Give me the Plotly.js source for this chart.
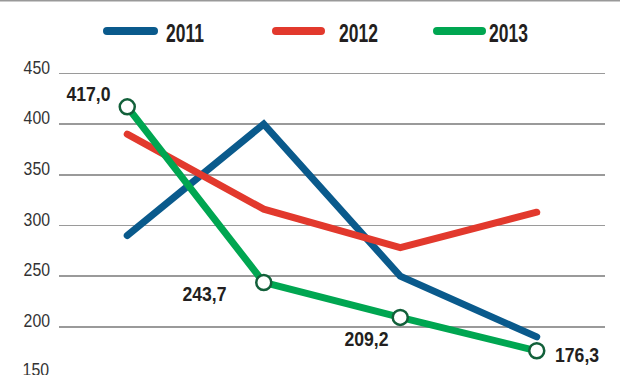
<!DOCTYPE html>
<html>
<head>
<meta charset="utf-8">
<script src="https://cdn.plot.ly/plotly-3.0.1.min.js"></script>
<style>
  html, body { margin: 0; padding: 0; background: #fff; }
  #chart { width: 620px; height: 375px; }
  .js-line, .shapelayer path { stroke-linecap: round; }
</style>
</head>
<body>
<div id="chart"></div>
<script>
const categories = ['I', 'II', 'III', 'IV'];
const seriesNames = ['2011', '2012', '2013'];
const values2011 = [290, 400, 250, 190];
const values2012 = [390, 316, 278, 313];
const values2013 = [417.0, 243.7, 209.2, 176.3];
const dataLabels2013 = ['417,0', '243,7', '209,2', '176,3'];
const yTicks = [200, 250, 300, 350, 400, 450];
const bottomTickLabel = '150';
const colors = ['#0a5a8c', '#e2392d', '#00a651'];

const FONT = '"Liberation Sans", Arial, sans-serif';
const L = 59, R = 605, T = 60, B = 375;
const px = x => (x - L) / (R - L);
const py = y => (B - y) / (B - T);

const xIdx = categories.map((c, i) => i);

const traces = [
  { x: xIdx, y: values2011, name: seriesNames[0], mode: 'lines',
    line: { color: colors[0], width: 7 } },
  { x: xIdx, y: values2012, name: seriesNames[1], mode: 'lines',
    line: { color: colors[1], width: 7 } },
  { x: xIdx, y: values2013, name: seriesNames[2], mode: 'lines+markers',
    line: { color: colors[2], width: 7 },
    marker: { size: 15, color: '#ffffff', line: { color: '#12603a', width: 2.5 } } }
];

// data label placement (offsets in px relative to the point)
const labelPos = [
  { xanchor: 'right', xshift: -14, yshift: 13 },
  { xanchor: 'right', xshift: -35, yshift: -11 },
  { xanchor: 'right', xshift: -9, yshift: -21 },
  { xanchor: 'left', xshift: 16, yshift: -4 }
];

const annotations = [];
const squeezeInfo = []; // horizontal condensing per annotation (font is condensed in reference)
values2013.forEach((v, i) => {
  annotations.push(Object.assign({
    x: xIdx[i], y: v, xref: 'x', yref: 'y', text: dataLabels2013[i],
    showarrow: false, yanchor: 'middle',
    font: { family: FONT, size: 21, color: '#231f20', weight: 'bold' }
  }, labelPos[i]));
  squeezeInfo.push({ s: 0.84, anchor: labelPos[i].xanchor });
});

// bottom "150" tick label (slightly cut off at the bottom edge)
annotations.push({
  xref: 'paper', yref: 'paper', x: 0, y: 0, xanchor: 'right', yanchor: 'middle',
  xshift: -8, yshift: 5, text: bottomTickLabel, showarrow: false,
  font: { family: FONT, size: 18, color: '#333333' }
});
squeezeInfo.push({ s: 0.88, anchor: 'right' });

// custom legend
const legendItems = [
  { x0: 107, x1: 154, tx: 164 },
  { x0: 276, x1: 321, tx: 337 },
  { x0: 437, x1: 482, tx: 487 }
];
const legendY = 31;
const shapes = [];
legendItems.forEach((it, i) => {
  shapes.push({ type: 'line', xref: 'paper', yref: 'paper',
    x0: px(it.x0), x1: px(it.x1), y0: py(legendY), y1: py(legendY),
    line: { color: colors[i], width: 8 } });
  annotations.push({ xref: 'paper', yref: 'paper', x: px(it.tx), y: py(legendY + 1.5),
    xanchor: 'left', yanchor: 'middle', text: seriesNames[i], showarrow: false,
    font: { family: FONT, size: 25, color: '#231f20', weight: 'bold' } });
  squeezeInfo.push({ s: 0.70, anchor: 'left' });
});
// top gray rule
shapes.push({ type: 'line', xref: 'paper', yref: 'paper',
  x0: px(0), x1: px(620), y0: py(0.8), y1: py(0.8),
  line: { color: '#999999', width: 1.6 } });

const layout = {
  width: 620, height: 375,
  margin: { l: L, r: 620 - R, t: T, b: 0, pad: 0 },
  paper_bgcolor: '#ffffff', plot_bgcolor: '#ffffff',
  showlegend: false,
  xaxis: { range: [-0.5, 3.5], showgrid: false, zeroline: false, showline: false,
    showticklabels: false, ticks: '', tickvals: xIdx, ticktext: categories },
  yaxis: { range: [152.4, 463.2], tickvals: yTicks, showgrid: true,
    gridcolor: '#9a9a9a', gridwidth: 1.6, zeroline: false, showline: false,
    ticks: '', ticklabelstandoff: 8, ticklabelshift: -6,
    tickfont: { family: FONT, size: 18, color: '#333333' } },
  annotations: annotations,
  shapes: shapes
};

function squeeze(el, s, anchor) {
  const bb = el.getBBox();
  let ax = bb.x;
  if (anchor === 'right') ax = bb.x + bb.width;
  else if (anchor === 'center') ax = bb.x + bb.width / 2;
  const old = el.getAttribute('transform') || '';
  el.setAttribute('transform',
    (old + ' translate(' + ax + ',0) scale(' + s + ',1) translate(' + (-ax) + ',0)').trim());
}

Plotly.newPlot('chart', traces, layout, { displayModeBar: false, staticPlot: true })
  .then(gd => {
    squeezeInfo.forEach((info, i) => {
      const t = gd.querySelector('g.annotation[data-index="' + i + '"] text.annotation-text');
      if (t) squeeze(t, info.s, info.anchor);
    });
    gd.querySelectorAll('g.ytick text').forEach(t => squeeze(t, 0.88, 'right'));
  });
</script>
</body>
</html>
